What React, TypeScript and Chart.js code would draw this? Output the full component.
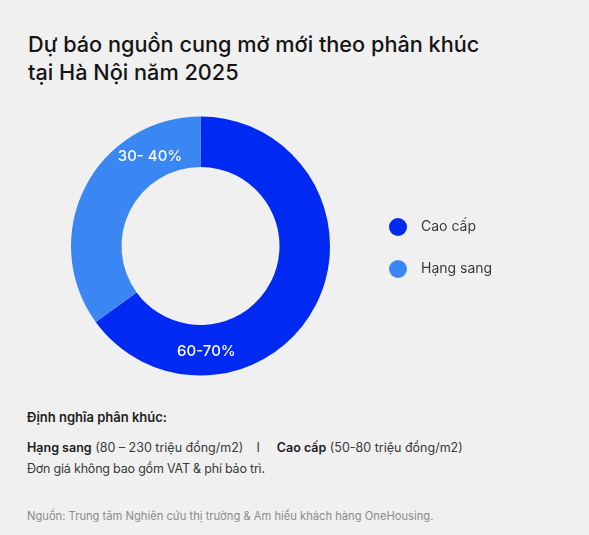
import React, { useEffect, useRef } from 'react';
import { Chart, registerables } from 'chart.js';

Chart.register(...registerables);

// data
const segments = ['Cao cấp', 'Hạng sang'];
const shares = [65, 35];
const sliceLabels = ['60-70%', '30- 40%'];
const sliceColors = ['#0029f2', '#3a87f3'];

const FONT = 'Inter, "Noto Sans", sans-serif';

// white range labels on the ring, a bit past the middle of each arc
const sliceLabelPlugin = {
  id: 'sliceLabels',
  afterDatasetsDraw(chart: any) {
    const ctx = chart.ctx;
    const meta = chart.getDatasetMeta(0);
    ctx.save();
    ctx.fillStyle = '#ffffff';
    ctx.font = `500 15px ${FONT}`;
    ctx.textAlign = 'center';
    ctx.textBaseline = 'middle';
    meta.data.forEach((arc: any, i: number) => {
      const p = arc.getProps(['x', 'y', 'startAngle', 'endAngle', 'innerRadius', 'outerRadius'], true);
      const a = p.startAngle + 0.76 * (p.endAngle - p.startAngle);
      const r = (p.innerRadius + p.outerRadius) / 2;
      ctx.fillText(sliceLabels[i], p.x + Math.cos(a) * r + 2, p.y + Math.sin(a) * r + 1);
    });
    ctx.restore();
  },
};

// legend to the right of the doughnut
const sideLegendPlugin = {
  id: 'sideLegend',
  afterDraw(chart: any) {
    const ctx = chart.ctx;
    const area = chart.chartArea;
    const cy = (area.top + area.bottom) / 2;
    const labels = chart.data.labels as string[];
    const colors = chart.data.datasets[0].backgroundColor as string[];
    ctx.save();
    ctx.font = `400 14px ${FONT}`;
    ctx.textBaseline = 'middle';
    ctx.textAlign = 'left';
    labels.forEach((lab, i) => {
      const y = cy - 19 + i * 42;
      const x = area.right + 68;
      ctx.beginPath();
      ctx.arc(x, y, 9, 0, Math.PI * 2);
      ctx.fillStyle = colors[i];
      ctx.fill();
      ctx.fillStyle = '#3a3a3a';
      ctx.fillText(lab, x + 23, y);
    });
    ctx.restore();
  },
};

const DoughnutChart: React.FC = () => {
  const canvasRef = useRef<HTMLCanvasElement>(null);

  useEffect(() => {
    if (!canvasRef.current) return;
    const chart = new Chart(canvasRef.current, {
      type: 'doughnut',
      data: {
        labels: segments,
        datasets: [
          {
            data: shares,
            backgroundColor: sliceColors,
            borderWidth: 0,
            hoverOffset: 0,
          },
        ],
      },
      options: {
        responsive: false,
        animation: false,
        events: [],
        cutout: '61%',
        layout: { padding: { left: 71, top: 16, right: 259, bottom: 14 } },
        plugins: {
          legend: { display: false },
          tooltip: { enabled: false },
        },
      },
      plugins: [sliceLabelPlugin, sideLegendPlugin],
    });
    return () => {
      chart.destroy();
    };
  }, []);

  return (
    <canvas
      ref={canvasRef}
      width={589}
      height={290}
      style={{ position: 'absolute', left: 0, top: 100, width: 589, height: 290 }}
    />
  );
};

const text = (top: number, size: number, extra: React.CSSProperties = {}): React.CSSProperties => ({
  position: 'absolute',
  left: 27,
  top,
  fontSize: size,
  lineHeight: `${Math.round(size * 1.21)}px`,
  whiteSpace: 'nowrap',
  color: '#2a2a2a',
  ...extra,
});

const bold: React.CSSProperties = { fontWeight: 600, color: '#1e1e1e' };

export default function App() {
  return (
    <div
      style={{
        position: 'absolute',
        left: 0,
        top: 0,
        width: 589,
        height: 535,
        background: '#f0f0f0',
        fontFamily: FONT,
        overflow: 'hidden',
      }}
    >
      <div style={{ position: 'absolute', left: 28, top: 30, fontSize: 21.7, fontWeight: 500, lineHeight: '28px', color: '#151515' }}>
        Dự báo nguồn cung mở mới theo phân khúc
        <br />
        tại Hà Nội năm 2025
      </div>
      <DoughnutChart />
      <div style={text(409, 13, bold)}>Định nghĩa phân khúc:</div>
      <div style={text(440, 12.5, { color: '#3a3a3a' })}>
        <b style={bold}>Hạng sang</b> (80 – 230 triệu đồng/m2)
        <span style={{ marginLeft: 13, marginRight: 17 }}>I</span>
        <b style={bold}>Cao cấp</b> (50-80 triệu đồng/m2)
      </div>
      <div style={text(461, 12.5, { color: '#3a3a3a', letterSpacing: -0.2 })}>Đơn giá không bao gồm VAT &amp; phí bảo trì.</div>
      <div style={text(509, 11.2, { color: '#8c8c8c' })}>
        Nguồn: Trung tâm Nghiên cứu thị trường &amp; Am hiểu khách hàng OneHousing.
      </div>
    </div>
  );
}
